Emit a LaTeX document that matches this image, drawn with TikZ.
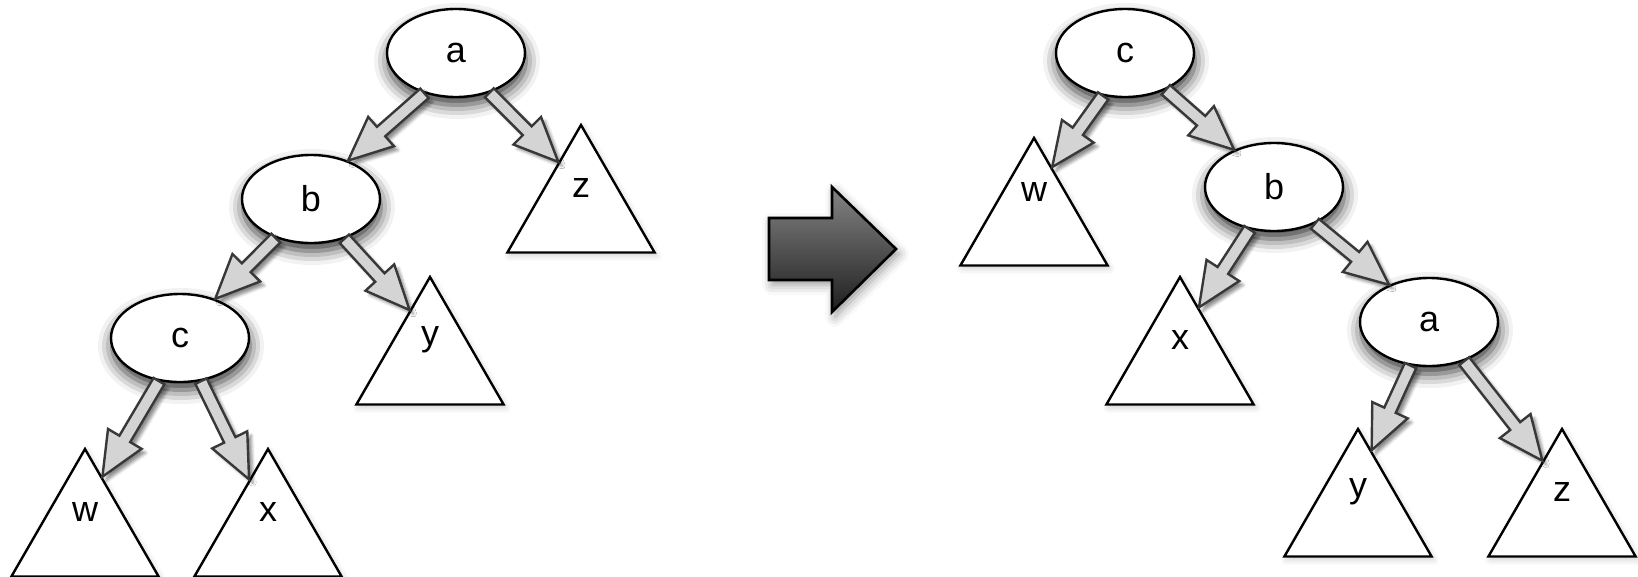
\documentclass[tikz,border=0pt]{standalone}
\usepackage{fontspec}
\setmainfont{Liberation Sans}
\usetikzlibrary{shapes.geometric,calc,shadows.blur}
\tikzset{
  treenode/.style={ellipse,draw=black,line width=2.4pt,fill=white,minimum width=138pt,minimum height=88pt,inner sep=0pt,
    blur shadow={shadow xshift=1pt,shadow yshift=-8pt,shadow blur radius=14pt,shadow opacity=80}},
  subtree/.style={regular polygon,regular polygon sides=3,draw=black,line width=2.4pt,fill=white,minimum size=170pt,inner sep=0pt,
    blur shadow={shadow xshift=2pt,shadow yshift=-3pt,shadow blur radius=6pt,shadow opacity=20}},
  tlabel/.style={inner sep=0pt},
  conn/.style={draw=black!78,fill=black!17,line width=2.4pt,line join=miter,
    blur shadow={shadow xshift=4pt,shadow yshift=-4pt,shadow blur radius=3pt,shadow opacity=45}},
  bigarrow/.style={draw=black,line width=2.6pt,line join=miter,top color=black!48,middle color=black!40,bottom color=black!88,
    blur shadow={shadow xshift=3pt,shadow yshift=-5pt,shadow blur radius=10pt,shadow opacity=40}}
}
\newcommand\hollowarrow[2]{%
  \coordinate (hA) at (#1); \coordinate (hB) at (#2);
  \coordinate (hS) at ($(hB)!44pt!(hA)$);
  \path[conn] ($(hA)!6.3pt!90:(hB)$) -- ($(hS)!6.3pt!-90:(hA)$) -- ($(hS)!19.5pt!-90:(hA)$) -- (hB)
     -- ($(hS)!19.5pt!90:(hA)$) -- ($(hS)!6.3pt!90:(hA)$) -- ($(hA)!6.3pt!-90:(hB)$) -- cycle;}
\begin{document}
\begin{tikzpicture}[x=1pt,y=-1pt,font=\fontsize{36}{40}\selectfont]
\useasboundingbox (0,0) rectangle (1638,576);
% ---------- left tree ----------
\node[subtree] (Lz) at (581,210) {};
\node[subtree] (Ly) at (430,362) {};
\node[subtree] (Lw) at (85,534) {};
\node[subtree] (Lx) at (268,534) {};
\node[tlabel] (Lzl) at (581,188) {z};
\node[tlabel] (Lyl) at (430,340) {y};
\node[tlabel] (Lwl) at (85,512) {w};
\node[tlabel] (Lxl) at (268,512) {x};
\node[treenode] (La) at (456,53) {a};
\node[treenode] (Lb) at (311,199) {b};
\node[treenode] (Lc) at (180,338) {c};
\coordinate (Lzt) at ($(Lz.corner 1)!0.30!(Lz.corner 2)$);
\coordinate (Lyt) at ($(Ly.corner 1)!0.27!(Ly.corner 2)$);
\coordinate (Lwt) at ($(Lw.corner 1)!0.23!(Lw.corner 3)$);
\coordinate (Lxt) at ($(Lx.corner 1)!0.25!(Lx.corner 2)$);
\hollowarrow{La.-128}{Lb.46}
\hollowarrow{La.-50}{Lzt}
\hollowarrow{Lb.-132}{Lc.48}
\hollowarrow{Lb.-50}{Lyt}
\hollowarrow{Lc.-116}{Lwt}
\hollowarrow{Lc.-64}{Lxt}
% ---------- middle arrow ----------
\path[bigarrow] (769,218) -- (832,218) -- (832,187) -- (896,249) -- (832,312) -- (832,280) -- (769,280) -- cycle;
% ---------- right tree ----------
\node[subtree] (Rw) at (1034,223) {};
\node[subtree] (Rx) at (1180,362) {};
\node[subtree] (Ry) at (1358,514) {};
\node[subtree] (Rz) at (1562,514) {};
\node[tlabel] (Rwl) at (1034,192) {w};
\node[tlabel] (Rxl) at (1180,340) {x};
\node[tlabel] (Ryl) at (1358,492) {y};
\node[tlabel] (Rzl) at (1562,492) {z};
\node[treenode] (Rc) at (1125,53) {c};
\node[treenode] (Rb) at (1274,187) {b};
\node[treenode] (Ra) at (1429,322) {a};
\coordinate (Rwt) at ($(Rw.corner 1)!0.24!(Rw.corner 3)$);
\coordinate (Rxt) at ($(Rx.corner 1)!0.25!(Rx.corner 3)$);
\coordinate (Ryt) at ($(Ry.corner 1)!0.18!(Ry.corner 3)$);
\coordinate (Rzt) at ($(Rz.corner 1)!0.26!(Rz.corner 2)$);
\hollowarrow{Rc.-117}{Rwt}
\hollowarrow{Rc.-42}{Rb.137}
\hollowarrow{Rb.-120}{Rxt}
\hollowarrow{Rb.-42}{Ra.137}
\hollowarrow{Ra.-113}{Ryt}
\hollowarrow{Ra.-48}{Rzt}
\end{tikzpicture}
\end{document}
